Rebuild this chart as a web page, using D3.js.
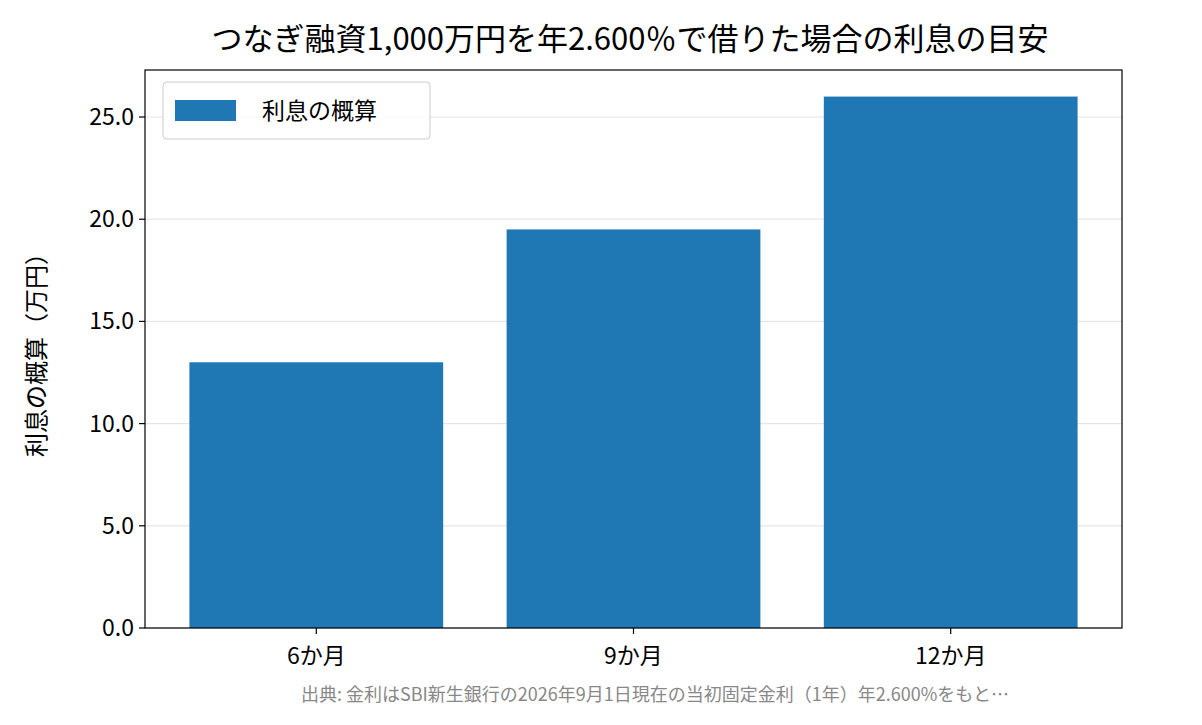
<!DOCTYPE html>
<html><head><meta charset="utf-8">
<script src="https://cdn.jsdelivr.net/npm/d3@7"></script>
<style>body{margin:0;background:#fff}text{font-family:"Noto Sans CJK JP","Noto Sans",sans-serif}</style>
</head><body>
<svg id="c" width="1202" height="725"></svg>
<script>
const categories = ["6か月","9か月","12か月"];
const values = [13.0, 19.5, 26.0];
const yTicks = [0,5,10,15,20,25];
const title = "つなぎ融資1,000万円を年2.600％で借りた場合の利息の目安";
const yLabel = "利息の概算（万円）";
const legendLabel = "利息の概算";
const footer = "出典: 金利はSBI新生銀行の2026年9月1日現在の当初固定金利（1年）年2.600%をもと…";

const svg = d3.select("#c");
const L=145,R=1122,T=70,B=628;
const x = d3.scaleLinear().domain([-0.54,2.54]).range([L,R]);
const y = d3.scaleLinear().domain([0,27.3]).range([B,T]);
const bw = x(0.8)-x(0);

svg.append("g").selectAll("line").data(yTicks).join("line")
 .attr("x1",L).attr("x2",R).attr("y1",d=>y(d)).attr("y2",d=>y(d))
 .attr("stroke","#e6e6e6").attr("stroke-width",1.2);

svg.append("g").selectAll("rect").data(values).join("rect")
 .attr("x",(d,i)=>x(i)-bw/2).attr("width",bw)
 .attr("y",d=>y(d)).attr("height",d=>B-y(d)).attr("fill","#1f77b4");

svg.append("rect").attr("x",L).attr("y",T).attr("width",R-L).attr("height",B-T)
 .attr("fill","none").attr("stroke","#000").attr("stroke-width",1.2);

const ya = svg.append("g");
yTicks.forEach(t=>{
 ya.append("line").attr("x1",L-6).attr("x2",L).attr("y1",y(t)).attr("y2",y(t)).attr("stroke","#000").attr("stroke-width",1.2);
 ya.append("text").attr("x",L-11).attr("y",y(t)).attr("dy","0.35em").attr("text-anchor","end")
  .attr("font-size",23).text(t.toFixed(1));
});
categories.forEach((c,i)=>{
 svg.append("line").attr("x1",x(i)).attr("x2",x(i)).attr("y1",B).attr("y2",B+6).attr("stroke","#000").attr("stroke-width",1.2);
 svg.append("text").attr("x",x(i)).attr("y",B+36).attr("text-anchor","middle").attr("font-size",23).text(c);
});
svg.append("text").attr("transform",`translate(45,${(T+B)/2}) rotate(-90)`).attr("text-anchor","middle")
 .attr("font-size",24).text(yLabel);
svg.append("text").attr("x",630).attr("y",50).attr("text-anchor","middle").attr("font-size",31).text(title);

const lg = svg.append("g");
lg.append("rect").attr("x",163).attr("y",82).attr("width",267).attr("height",57).attr("rx",4)
 .attr("fill","#fff").attr("fill-opacity",0.8).attr("stroke","#ccc");
lg.append("rect").attr("x",175).attr("y",100).attr("width",61).attr("height",21).attr("fill","#1f77b4");
lg.append("text").attr("x",262).attr("y",111).attr("dy","0.35em").attr("font-size",23).text(legendLabel);

svg.append("text").attr("x",655).attr("y",701).attr("text-anchor","middle").attr("font-size",18)
 .attr("fill","#888").text(footer);
</script>
</body></html>
